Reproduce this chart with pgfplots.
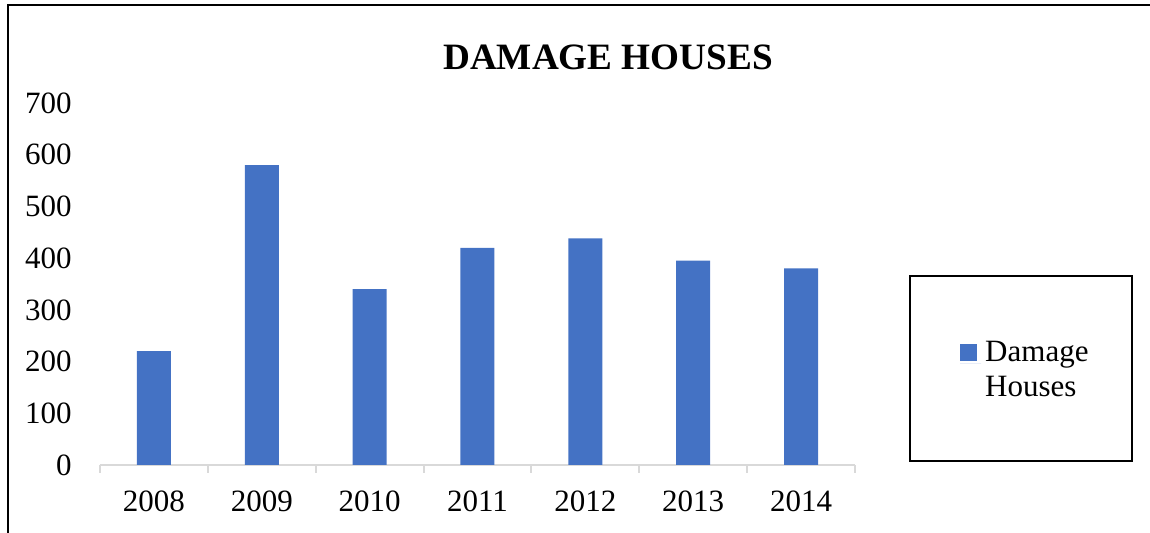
\documentclass[border=0pt]{standalone}
\usepackage{pgfplots}
\pgfplotsset{compat=1.18}
\usepackage{fontspec}
\setmainfont{Liberation Serif}
\definecolor{barblue}{HTML}{4472C4}
\definecolor{axgray}{HTML}{D9D9D9}
\begin{document}
\begin{tikzpicture}
\useasboundingbox (0,0) rectangle (575pt,266.5pt);
\draw[line width=1pt] (4pt,-20pt) -- (4pt,264pt) -- (620pt,264pt);
\node[font=\fontsize{18.6}{22}\selectfont\bfseries, anchor=base] at (304pt,231.5pt) {DAMAGE HOUSES};
\draw[line width=0.6pt] (455pt,36pt) rectangle (566pt,128.5pt);
\begin{axis}[
  at={(50pt,34pt)}, anchor=south west,
  scale only axis, width=377.5pt, height=181pt,
  xmin=-0.5, xmax=6.5, ymin=0, ymax=700,
  axis x line*=bottom, axis y line*=left,
  axis line style={-},
  x axis line style={draw=axgray, line width=1pt},
  y axis line style={draw=none},
  xtick={0,...,6},
  xticklabels={2008,2009,2010,2011,2012,2013,2014},
  ytick={0,100,...,700},
  major tick length=0pt,
  xtick style={draw=none}, ytick style={draw=none},
  extra x ticks={-0.5,0.5,1.5,2.5,3.5,4.5,5.5,6.5},
  extra x tick labels={},
  extra x tick style={major tick length=4pt, tick align=outside, xtick style={draw=axgray, line width=1pt}},
  /pgf/number format/assume math mode=true,
  tick label style={font=\fontsize{15.5}{18}\selectfont},
  xticklabel style={anchor=north, inner sep=0pt, yshift=-12.5pt},
  yticklabel style={anchor=east, inner sep=0pt, xshift=-14pt},
  legend style={draw=none, fill=none, at={(1.227,0.262)}, anchor=center,
    font=\fontsize{15.5}{17.5}\selectfont, cells={align=left}, inner sep=0pt},
  legend cell align=left,
  legend image code/.code={\path (0pt,3.5pt) -- (10.5pt,3.5pt); \fill[barblue] (0pt,4.5pt) rectangle (8.5pt,13pt);},
]
\addplot[ybar, bar width=17pt, fill=barblue, draw=none] coordinates {(0,220) (1,580) (2,340) (3,420) (4,438) (5,395) (6,380)};
\addlegendentry{Damage\\Houses}
\end{axis}
\end{tikzpicture}
\end{document}
